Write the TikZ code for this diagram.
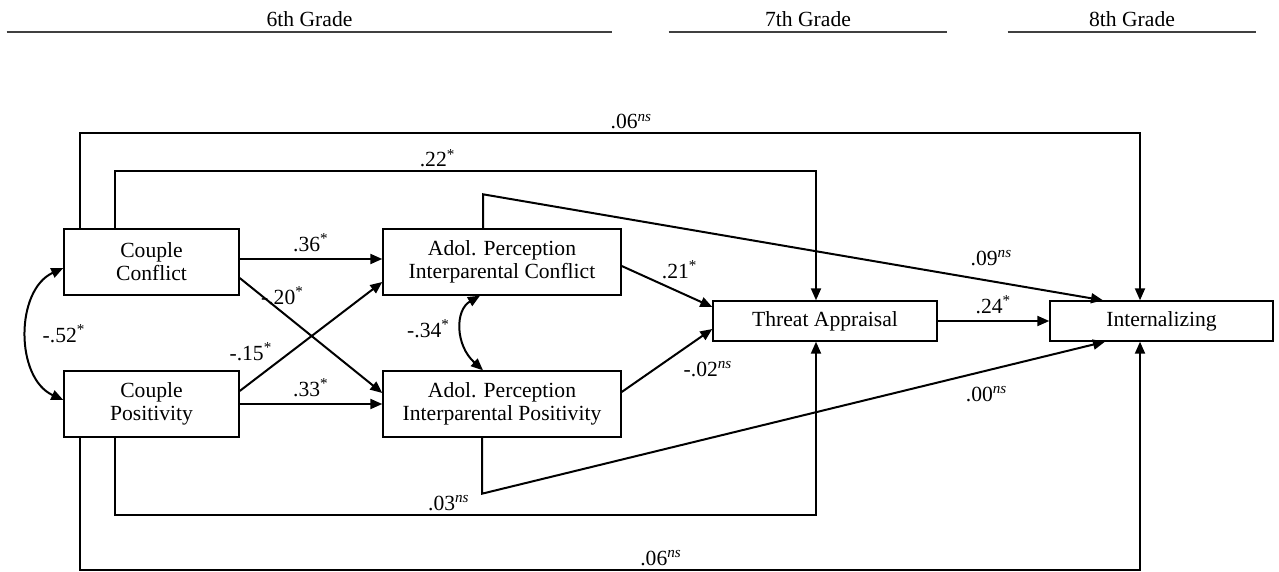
\documentclass[tikz,border=0pt]{standalone}
\usepackage{fontspec}
\setmainfont{Liberation Serif}
\usetikzlibrary{arrows.meta}

\newcommand{\sigstar}{\textsuperscript{*}}
\newcommand{\nonsig}{\textsuperscript{\textit{ns}}}

\begin{document}
\begin{tikzpicture}[x=0.5pt, y=-0.5pt, font=\fontsize{10.8}{11.5}\selectfont,
  varbox/.style={draw, rectangle, line width=0.7pt, inner sep=0pt, align=center, minimum width=87.5pt, minimum height=33pt},
  effect/.style={-{Triangle[length=6pt, width=5pt]}, line width=1pt},
  covar/.style={{Triangle[length=6pt, width=5pt]}-{Triangle[length=6pt, width=5pt]}, line width=1pt},
  gradehead/.style={anchor=south, inner xsep=0pt, inner ysep=2.6pt},
  gradeline/.style={line width=1pt, black!75}]
  \useasboundingbox (0,0) rectangle (1279,572);

  % Grades
  \node[gradehead, minimum width=302.5pt] (g6) at (309.5,32) {6th Grade};
  \node[gradehead, minimum width=139pt] (g7) at (808,32) {7th Grade};
  \node[gradehead, minimum width=124pt] (g8) at (1132,32) {8th Grade};
  \draw[gradeline] (g6.south west) -- (g6.south east);
  \draw[gradeline] (g7.south west) -- (g7.south east);
  \draw[gradeline] (g8.south west) -- (g8.south east);

  % Nodes
  \node[varbox] (cc) at (151.5,262) {Couple\\Conflict};
  \node[varbox, below of=cc, node distance=71pt] (cp) {Couple\\Positivity};
  \node[varbox, minimum width=119pt, right of=cc, node distance=175.25pt] (apc) {Adol. Perception\\Interparental Conflict};
  \node[varbox, minimum width=119pt, right of=cp, node distance=175.25pt] (app) {Adol. Perception\\Interparental Positivity};
  \node[varbox, minimum width=112pt, minimum height=20pt] (ta) at (825,321) {Threat Appraisal};
  \node[varbox, minimum width=111.5pt, minimum height=20pt, right of=ta, node distance=168.25pt] (int) {Internalizing};

  % Edges
  \draw[effect] ([xshift=8.5pt]cc.north west) -- ++(0,-95) -| node[pos=0.26, above, inner sep=1.5pt] {.06\nonsig} ([xshift=-10.75pt]int.north);
  \draw[effect] ([xshift=26pt]cc.north west) -- ++(0,-57) -| node[pos=0.23, above, inner sep=1.5pt] {.22\sigstar} ([xshift=-4.5pt]ta.north);
  \draw[effect] ([xshift=-9.5pt]apc.north) -- ++(0,-34) -- node[pos=0.82, above=4pt] {.09\nonsig} ([xshift=-29.25pt]int.north);
  \draw[effect] ([yshift=1.5pt]cc.east) -- node[above] {.36\sigstar} ([yshift=1.5pt]apc.west);
  \draw[effect] ([yshift=-8pt]cc.east) -- node[pos=0.3, above] {-.20\sigstar} ([yshift=5.5pt]app.west);
  \draw[effect] ([yshift=6.5pt]cp.east) -- node[pos=0.25, above left, inner sep=1pt] {-.15\sigstar} ([yshift=-10pt]apc.west);
  \draw[effect] (cp.east) -- node[above] {.33\sigstar} (app.west);
  \draw[covar] ([yshift=-3pt]cc.west) .. controls (15,290) and (15,378) .. node[right=4pt] {-.52\sigstar} ([yshift=2pt]cp.west);
  \draw[covar] ([xshift=-11pt]apc.south) .. controls (455,310) and (455,345) .. node[left=2pt] {-.34\sigstar} ([xshift=-9.5pt]app.north);
  \draw[effect] ([yshift=-2pt]apc.east) -- node[pos=0.4, above right, inner sep=1.5pt] {.21\sigstar} ([yshift=7pt]ta.west);
  \draw[effect] ([yshift=6pt]app.east) -- node[pos=0.6, below right] {-.02\nonsig} ([yshift=-4pt]ta.west);
  \draw[effect] (ta.east) -- node[above] {.24\sigstar} (int.west);
  \draw[effect] ([xshift=-10pt]app.south) -- ++(0,56) -- node[pos=0.81, below=4pt] {.00\nonsig} ([xshift=-28.25pt]int.south);
  \draw[effect] ([xshift=26pt]cp.south west) -- ++(0,77) -| node[pos=0.238, above, inner sep=1.5pt] {.03\nonsig} ([xshift=-4.5pt]ta.south);
  \draw[effect] ([xshift=8.5pt]cp.south west) -- ++(0,132) -| node[pos=0.274, above, inner sep=1.5pt] {.06\nonsig} ([xshift=-10.75pt]int.south);
\end{tikzpicture}
\end{document}
